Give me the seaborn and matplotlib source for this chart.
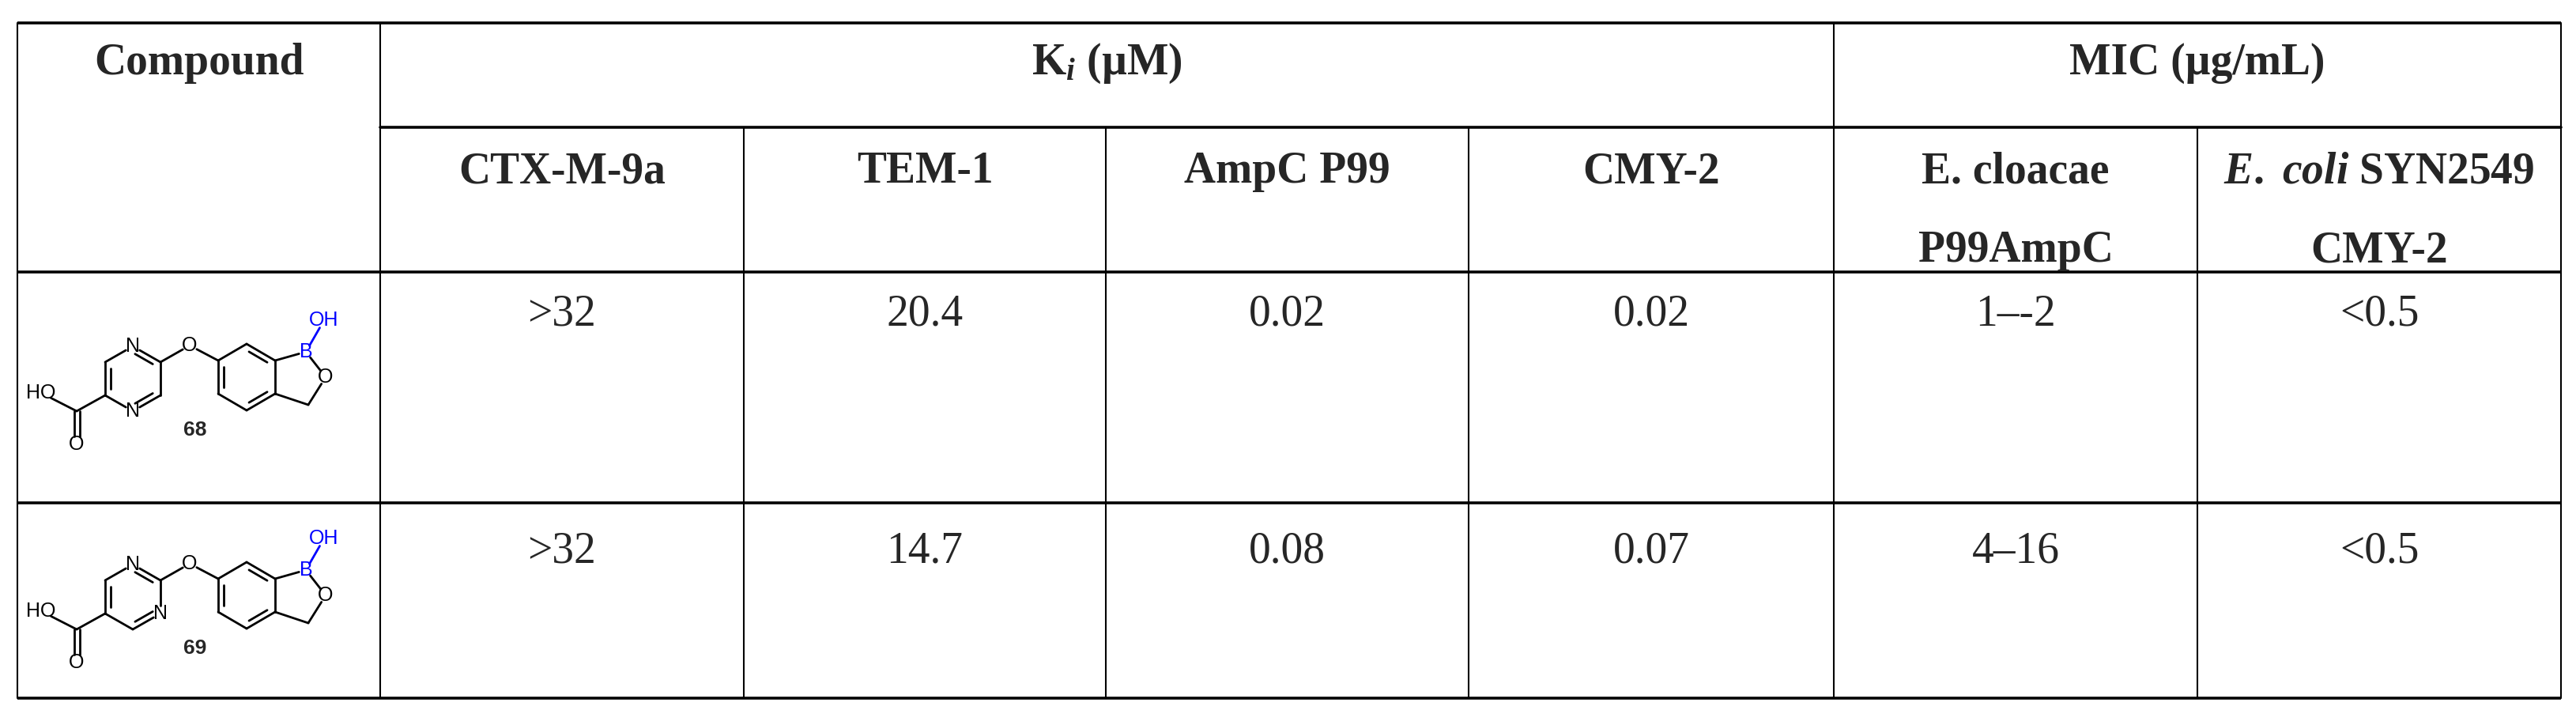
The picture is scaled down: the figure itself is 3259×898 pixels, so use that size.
import numpy as np
import matplotlib
matplotlib.use("Agg")
import matplotlib.pyplot as plt
import seaborn as sns

sns.set_theme(style="white")
plt.rcParams['font.family'] = ['Liberation Serif', 'DejaVu Serif']
plt.rcParams['mathtext.fontset'] = 'custom'
plt.rcParams['mathtext.rm'] = 'Liberation Serif:bold'
plt.rcParams['mathtext.it'] = 'Liberation Serif:italic:bold'
plt.rcParams['mathtext.bf'] = 'Liberation Serif:bold'

# ---- data ----
compounds = ["68", "69"]
group_headers = [r"$\mathrm{K}_{i}$ (µM)", "MIC (µg/mL)"]
sub_headers = ["CTX-M-9a", "TEM-1", "AmpC P99", "CMY-2",
               "E. cloacae\nP99AmpC", r"$\mathit{E.\ coli}$ SYN2549" + "\nCMY-2"]
ctx = [">32", ">32"]
tem = ["20.4", "14.7"]
ampc = ["0.02", "0.08"]
cmy = ["0.02", "0.07"]
mic_ecl = ["1–-2", "4–16"]
mic_eco = ["<0.5", "<0.5"]
values = [ctx, tem, ampc, cmy, mic_ecl, mic_eco]

# ---- layout ----
W, H = 3259, 898
xs = [22, 481, 941, 1399, 1858, 2320, 2780, 3240]
y_top, y_mid, y_head, y_r1, y_bot = 29, 161, 344, 636, 883

fig = plt.figure(figsize=(W / 100, H / 100), dpi=100)
ax = fig.add_axes([0, 0, 1, 1])
ax.set_xlim(0, W)
ax.set_ylim(H, 0)
ax.axis("off")

thick, thin = 2.6, 1.5
for y in [y_top, y_head, y_r1, y_bot]:
    ax.plot([xs[0], xs[-1]], [y, y], color="black", lw=thick, solid_capstyle="butt")
ax.plot([xs[1], xs[-1]], [y_mid, y_mid], color="black", lw=thick)
for i, x in enumerate(xs):
    if i in (0, 1, 5, 7):
        ax.plot([x, x], [y_top, y_bot], color="black", lw=thin)
    else:
        ax.plot([x, x], [y_mid, y_bot], color="black", lw=thin)

fs = 40
ax.text((xs[0] + xs[1]) / 2, 80, "Compound", ha="center", va="center",
        fontsize=fs, fontweight="bold")
ax.text((xs[1] + xs[5]) / 2, 80, group_headers[0], ha="center", va="center",
        fontsize=fs, fontweight="bold")
ax.text((xs[5] + xs[7]) / 2, 80, group_headers[1], ha="center", va="center",
        fontsize=fs, fontweight="bold")
for i, h in enumerate(sub_headers):
    cx = (xs[i + 1] + xs[i + 2]) / 2
    for k, line in enumerate(h.split("\n")):
        ax.text(cx, 217 + 100 * k, line, ha="center", va="center",
                fontsize=fs, fontweight="bold")
row_y = [398, 698]
for i, col in enumerate(values):
    cx = (xs[i + 1] + xs[i + 2]) / 2
    for r, v in enumerate(col):
        ax.text(cx, row_y[r], v, ha="center", va="center", fontsize=fs)

# ---- chemical structures (drawn with lines) ----
def draw_molecule(dy, n_positions, label):
    atoms = {
        "r1t": (168, 438), "r1tr": (203, 458), "r1br": (203, 500),
        "r1b": (168, 520), "r1bl": (133, 500), "r1tl": (133, 458),
        "cc": (97, 520), "oh": (52, 497), "od": (97, 562),
        "oe": (240, 437),
        "r2t": (312, 435), "r2tr": (348, 456), "r2br": (348, 498),
        "r2b": (312, 519), "r2bl": (276, 498), "r2tl": (276, 456),
        "B": (387, 445), "boh": (410, 405), "ro": (412, 477), "ch2": (390, 512),
    }
    atoms = {k: (x, y + dy) for k, (x, y) in atoms.items()}
    labels = {"oh": ("HO", "black"), "od": ("O", "black"), "oe": ("O", "black"),
              "B": ("B", "blue"), "boh": ("OH", "blue"), "ro": ("O", "black")}
    for n in n_positions:
        labels[n] = ("N", "black")
    gap = {"oh": 14, "od": 10, "oe": 10, "B": 9, "boh": 11, "ro": 10}
    for n in n_positions:
        gap[n] = 10
    c1 = np.mean([atoms[k] for k in ["r1t", "r1b"]], axis=0)
    c2 = np.mean([atoms[k] for k in ["r2t", "r2b"]], axis=0)
    bonds = [("r1t", "r1tr", 2, c1), ("r1tr", "r1br", 1, None), ("r1br", "r1b", 2, c1),
             ("r1b", "r1bl", 1, None), ("r1bl", "r1tl", 2, c1), ("r1tl", "r1t", 1, None),
             ("r1bl", "cc", 1, None), ("cc", "oh", 1, None), ("cc", "od", 3, None),
             ("r1tr", "oe", 1, None), ("oe", "r2tl", 1, None),
             ("r2t", "r2tr", 2, c2), ("r2tr", "r2br", 1, None), ("r2br", "r2b", 2, c2),
             ("r2b", "r2bl", 1, None), ("r2bl", "r2tl", 2, c2), ("r2tl", "r2t", 1, None),
             ("r2tr", "B", 1, None), ("B", "boh", 1, None), ("B", "ro", 1, None),
             ("ro", "ch2", 1, None), ("ch2", "r2br", 1, None)]
    lw = 2.0
    for a, b, order, center in bonds:
        p, q = np.array(atoms[a], float), np.array(atoms[b], float)
        d = q - p
        L = np.linalg.norm(d)
        u = d / L
        p2 = p + u * gap.get(a, 0)
        q2 = q - u * gap.get(b, 0)
        col_a = "blue" if a in ("B", "boh") and b in ("B", "boh") else "black"
        if order == 3:  # C=O double bond, symmetric
            nrm = np.array([-u[1], u[0]]) * 3.5
            for s in (1, -1):
                ax.plot([p2[0] + s * nrm[0], q2[0] + s * nrm[0]],
                        [p2[1] + s * nrm[1], q2[1] + s * nrm[1]], color="black", lw=lw)
            continue
        ax.plot([p2[0], q2[0]], [p2[1], q2[1]], color=col_a, lw=lw,
                solid_capstyle="round")
        if order == 2:
            mid = (p + q) / 2
            tow = center - mid
            tow = tow / np.linalg.norm(tow) * 7
            pa = p + d * 0.18 + tow
            qa = q - d * 0.18 + tow
            ax.plot([pa[0], qa[0]], [pa[1], qa[1]], color="black", lw=lw)
    for k, (t, c) in labels.items():
        x, y = atoms[k]
        ax.text(x, y, t, ha="center", va="center", fontsize=18, color=c,
                family=["Liberation Sans"])
    ax.text(247, 544 + dy, label, ha="center", va="center", fontsize=19,
            fontweight="bold", family=["Liberation Sans"])

draw_molecule(0, ["r1t", "r1b"], compounds[0])
draw_molecule(276, ["r1t", "r1br"], compounds[1])

fig.savefig("out.png", dpi=100, facecolor="white")
